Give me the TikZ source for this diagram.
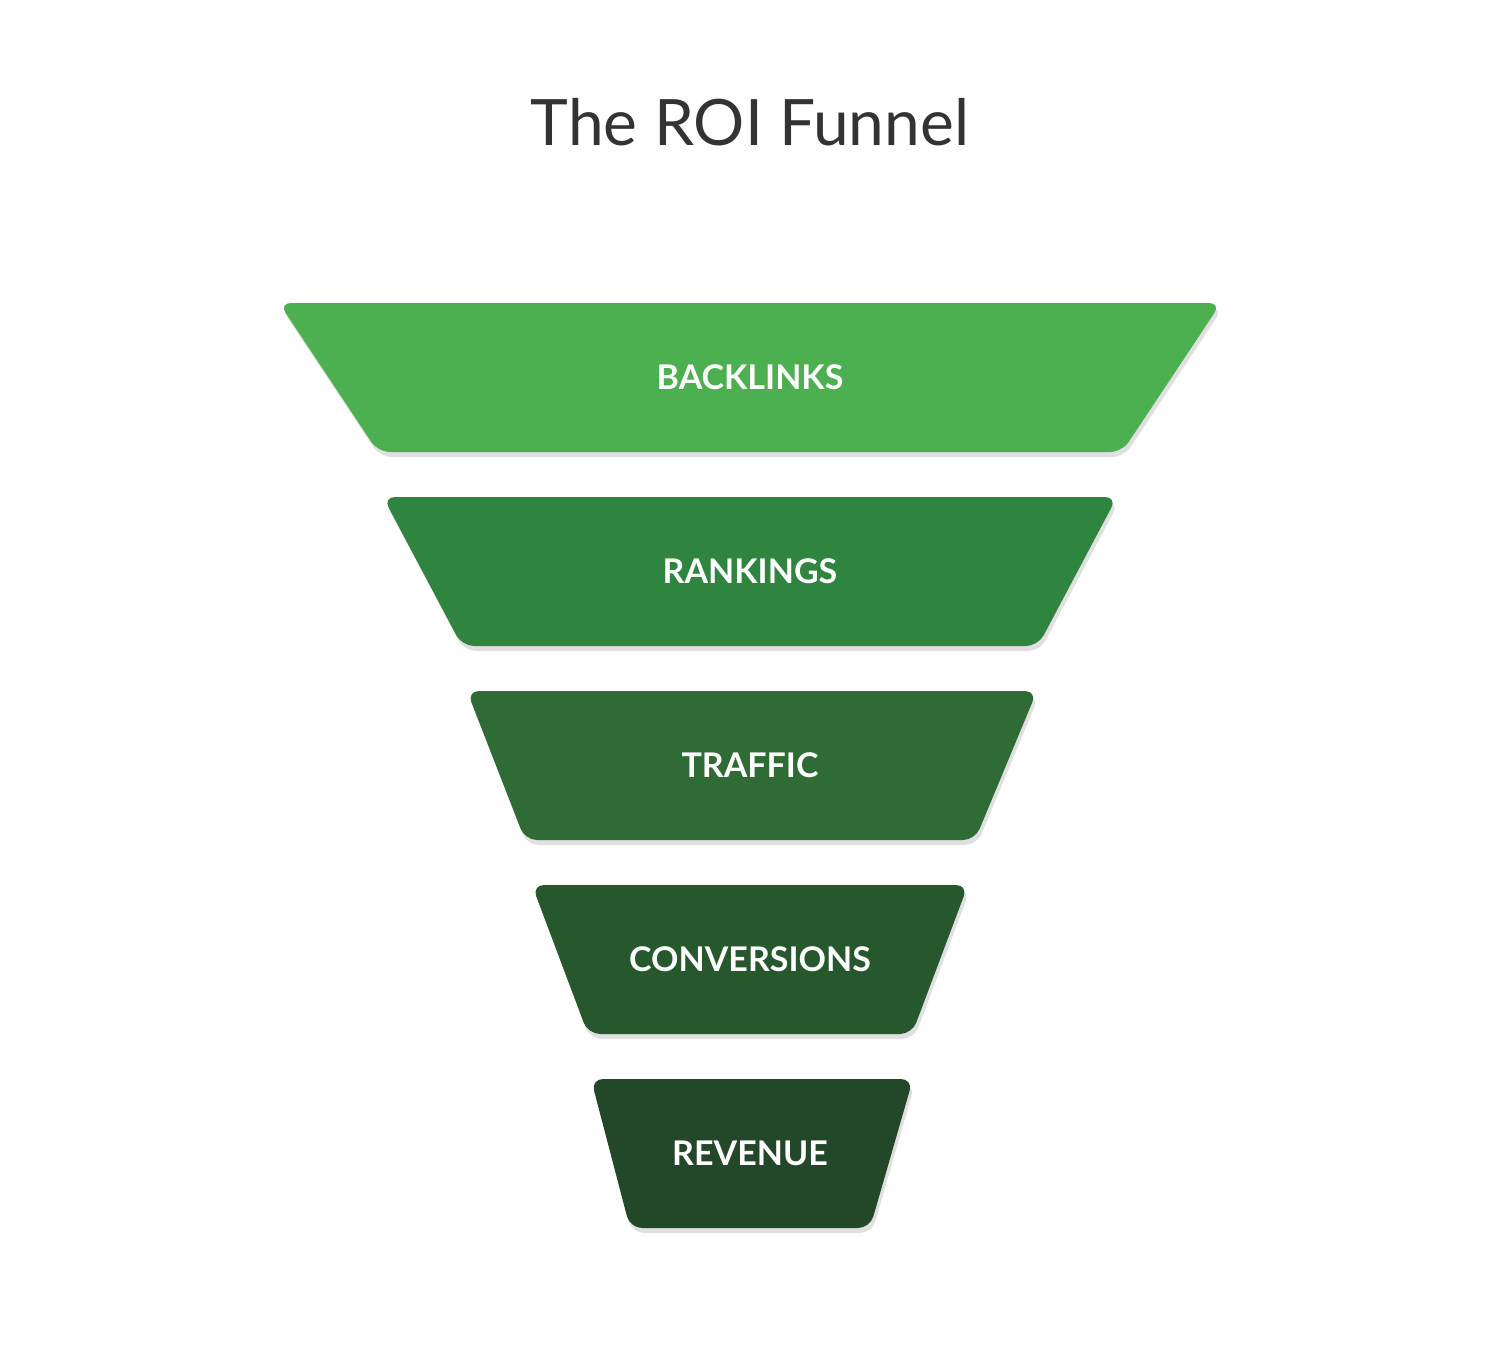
\documentclass[tikz,border=0pt]{standalone}
\usepackage{fontspec}
\setmainfont{Lato}
\definecolor{c1}{HTML}{4CAF50}
\definecolor{c2}{HTML}{2F8540}
\definecolor{c3}{HTML}{2E6B35}
\definecolor{c4}{HTML}{27572D}
\definecolor{c5}{HTML}{234829}
\definecolor{tt}{HTML}{333333}
\begin{document}
\begin{tikzpicture}[x=1pt,y=-1pt,
  lab/.style={text=white,font=\fontsize{34}{40}\selectfont\bfseries},
  shad/.style={fill=black,opacity=0.12,rounded corners=12pt}]
\useasboundingbox (0,0) rectangle (1500,1350);
\node[text=tt,font=\fontsize{64}{70}\selectfont] (title) at (750,122) {The ROI Funnel};
\foreach \yt/\yb/\tl/\tr/\bl/\br/\c/\n/\t in {
  303/452/279/1221/378/1122/c1/s1/BACKLINKS,
  497/646/383/1117/462/1038/c2/s2/RANKINGS,
  691/840/467/1037/525/975/c3/s3/TRAFFIC,
  885/1034/532/968/588/912/c4/s4/CONVERSIONS,
  1079/1228/591/913/630/870/c5/s5/REVENUE}{
  \fill[shad] (\tl+2,\yt+5) -- (\tr+2,\yt+5) -- (\br+2,\yb+5) -- (\bl+2,\yb+5) -- cycle;
  \fill[\c,rounded corners=12pt] (\tl,\yt) -- (\tr,\yt) -- (\br,\yb) -- (\bl,\yb) -- cycle;
  \node[lab] (\n) at (750,{(\yt+\yb)/2}) {\t};
}
\end{tikzpicture}
\end{document}
